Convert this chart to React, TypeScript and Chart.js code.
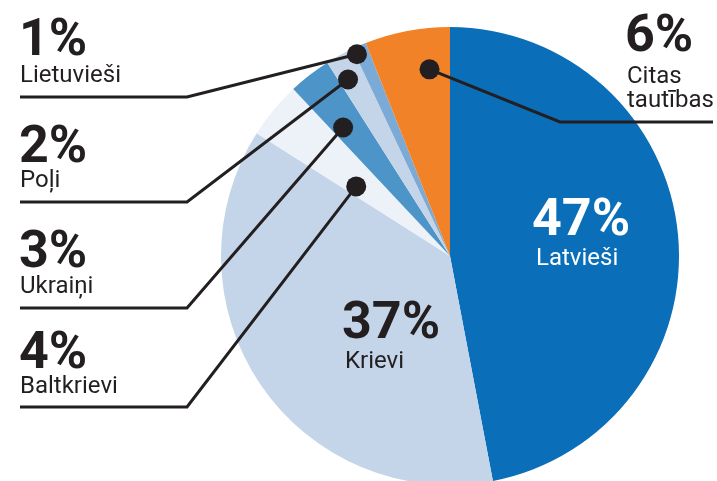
import React, { useEffect, useRef } from "react";
import { Chart, registerables } from "chart.js";

Chart.register(...registerables);

// ---- data ----
const categories = ["Latvieši", "Krievi", "Baltkrievi", "Ukraiņi", "Poļi", "Lietuvieši", "Citas tautības"];
const values = [47, 37, 4, 3, 2, 1, 6];
const colors = ["#0a6eb8", "#c4d5ea", "#ecf2f8", "#4d95c8", "#c4d5ea", "#7aaad5", "#f28228"];

// ---- callout layout (positions only) ----
type Callout = {
  inside?: boolean;
  x: number;
  nameX: number;
  pctY: number;
  nameY: number;
  color: string;
  lineY?: number;
  elbowX?: number;
  endX?: number;
  t?: number;
  rf?: number;
};
const callouts: Callout[] = [
  { inside: true, x: 532, nameX: 536, pctY: 235, nameY: 265, color: "#ffffff" },
  { inside: true, x: 342, nameX: 345, pctY: 338, nameY: 368, color: "#231f20" },
  { x: 19, nameX: 20, pctY: 368, nameY: 393, lineY: 407, elbowX: 187, endX: 20, t: 0.29, rf: 0.51, color: "#231f20" },
  { x: 19, nameX: 20, pctY: 267, nameY: 293, lineY: 308, elbowX: 187, endX: 20, t: 0.32, rf: 0.73, color: "#231f20" },
  { x: 19, nameX: 20, pctY: 162, nameY: 187, lineY: 202, elbowX: 187, endX: 20, t: 0.33, rf: 0.89, color: "#231f20" },
  { x: 19, nameX: 20, pctY: 55, nameY: 82, lineY: 97, elbowX: 187, endX: 20, t: 0.12, rf: 0.97, color: "#231f20" },
  { x: 625, nameX: 627, pctY: 51, nameY: 83, lineY: 122, elbowX: 560, endX: 713, t: 0.71, rf: 0.82, color: "#231f20" },
];

const INK = "#231f20";
const FONT = "Roboto, 'Noto Sans', sans-serif";

const calloutPlugin = {
  id: "callouts",
  afterDraw(chart: any) {
    const ctx: CanvasRenderingContext2D = chart.ctx;
    const meta = chart.getDatasetMeta(0);
    ctx.save();
    // leader lines
    ctx.strokeStyle = INK;
    ctx.lineWidth = 3;
    ctx.lineJoin = "miter";
    const dots: [number, number][] = [];
    meta.data.forEach((arc: any, i: number) => {
      const c = callouts[i];
      if (!c || c.inside) return;
      const a = arc.startAngle + (arc.endAngle - arc.startAngle) * (c.t as number);
      const r = arc.outerRadius * (c.rf as number);
      const dx = arc.x + Math.cos(a) * r;
      const dy = arc.y + Math.sin(a) * r;
      dots.push([dx, dy]);
      ctx.beginPath();
      ctx.moveTo(dx, dy);
      ctx.lineTo(c.elbowX as number, c.lineY as number);
      ctx.lineTo(c.endX as number, c.lineY as number);
      ctx.stroke();
    });
    ctx.fillStyle = INK;
    dots.forEach(([x, y]) => {
      ctx.beginPath();
      ctx.arc(x, y, 10, 0, Math.PI * 2);
      ctx.fill();
    });
    // texts
    ctx.textBaseline = "alphabetic";
    ctx.textAlign = "left";
    values.forEach((v, i) => {
      const c = callouts[i];
      if (!c) return;
      ctx.fillStyle = c.color;
      ctx.font = `bold 52px ${FONT}`;
      ctx.fillText(`${v}%`, c.x, c.pctY);
      ctx.font = `24px ${FONT}`;
      categories[i].split(" ").forEach((p, k) => {
        ctx.fillText(p, c.nameX, c.nameY + k * 24);
      });
    });
    ctx.restore();
  },
};

export default function App() {
  const ref = useRef<HTMLCanvasElement | null>(null);
  useEffect(() => {
    document.body.style.margin = "0";
    document.body.style.overflow = "hidden";
    const canvas = ref.current;
    if (!canvas) return;
    const chart = new Chart(canvas, {
      type: "pie",
      data: {
        labels: categories,
        datasets: [
          {
            data: values,
            backgroundColor: colors,
            borderWidth: 0,
          },
        ],
      },
      options: {
        responsive: false,
        animation: false,
        layout: { padding: { left: 221, right: 38, top: 27, bottom: 5 } },
        plugins: {
          legend: { display: false },
          tooltip: { enabled: false },
        },
      },
      plugins: [calloutPlugin],
    });
    return () => chart.destroy();
  }, []);
  return (
    <div style={{ width: 717, height: 481, overflow: "hidden", background: "#fff", position: "relative" }}>
      <canvas ref={ref} width={717} height={490} style={{ display: "block", width: 717, height: 490 }} />
    </div>
  );
}
